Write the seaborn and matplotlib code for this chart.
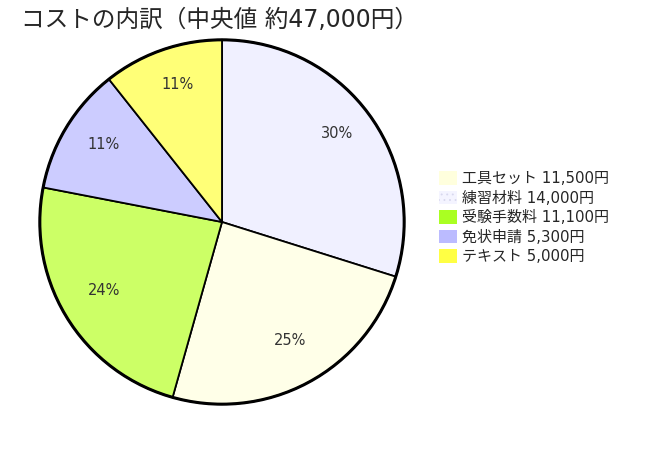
import matplotlib
matplotlib.use("Agg")
import matplotlib.pyplot as plt
from matplotlib.patches import Patch, Circle
import seaborn as sns

# === Data ===
categories = ["工具セット", "練習材料", "受験手数料", "免状申請", "テキスト"]
costs = [11500, 14000, 11100, 5300, 5000]
slice_colors = ["#ffffe8", "#f0f0ff", "#ccff66", "#ccccff", "#ffff77"]
legend_colors = ["#ffffdd", "#f4f4ff", "#aaff22", "#bbbbff", "#ffff44"]
title = "コストの内訳（中央値 約47,000円）"

sns.set_theme(style="white")
plt.rcParams["font.family"] = ["DejaVu Sans", "Noto Sans CJK JP"]
plt.rcParams["hatch.linewidth"] = 0.6

fig = plt.figure(figsize=(6.7, 4.5), dpi=100)
fig.patch.set_facecolor("white")

# pie drawn largest first, clockwise from the top
order = sorted(range(len(costs)), key=lambda i: -costs[i])
vals = [costs[i] for i in order]
cols = [slice_colors[i] for i in order]

cx, cy, r = 222, 222, 184
ax = fig.add_axes([(cx - r) / 670, (450 - cy - r) / 450, 2 * r / 670, 2 * r / 450])
wedges, texts, autotexts = ax.pie(
    vals, colors=cols, startangle=90, counterclock=False,
    autopct=lambda p: f"{p:.0f}%", pctdistance=0.77,
    wedgeprops=dict(edgecolor="black", linewidth=1.3),
    textprops=dict(color="#333333", fontsize=10.5),
)
# labels sit a few pixels higher in the original
for t in autotexts:
    x, y = t.get_position()
    t.set_position((x + 0.01, y + 0.028))
ax.add_patch(Circle((0, 0), 1, fill=False, edgecolor="black", lw=2.2, zorder=5))
ax.set_xlim(-1.01, 1.01)
ax.set_ylim(-1.01, 1.01)
ax.set_aspect("equal")
ax.axis("off")

# legend in original order
handles = []
for i in range(len(categories)):
    if i == 1:
        h = Patch(facecolor=legend_colors[i], edgecolor="#d8d8ee", hatch="...", lw=0)
    else:
        h = Patch(facecolor=legend_colors[i], edgecolor="none")
    handles.append(h)
labels = [f"{c} {v:,}円" for c, v in zip(categories, costs)]
leg = fig.legend(handles, labels, loc="upper left", bbox_to_anchor=(433 / 670, 1 - 165 / 450),
                 frameon=False, fontsize=10.8, handlelength=1.2, handleheight=1.0,
                 handletextpad=0.35, labelspacing=0.3, borderaxespad=0)

fig.text(21 / 670, 1 - 20 / 450, title, fontsize=17, ha="left", va="center",
         family=["DejaVu Sans", "Noto Sans CJK JP"])

fig.savefig("out.png", dpi=100)
plt.close()
